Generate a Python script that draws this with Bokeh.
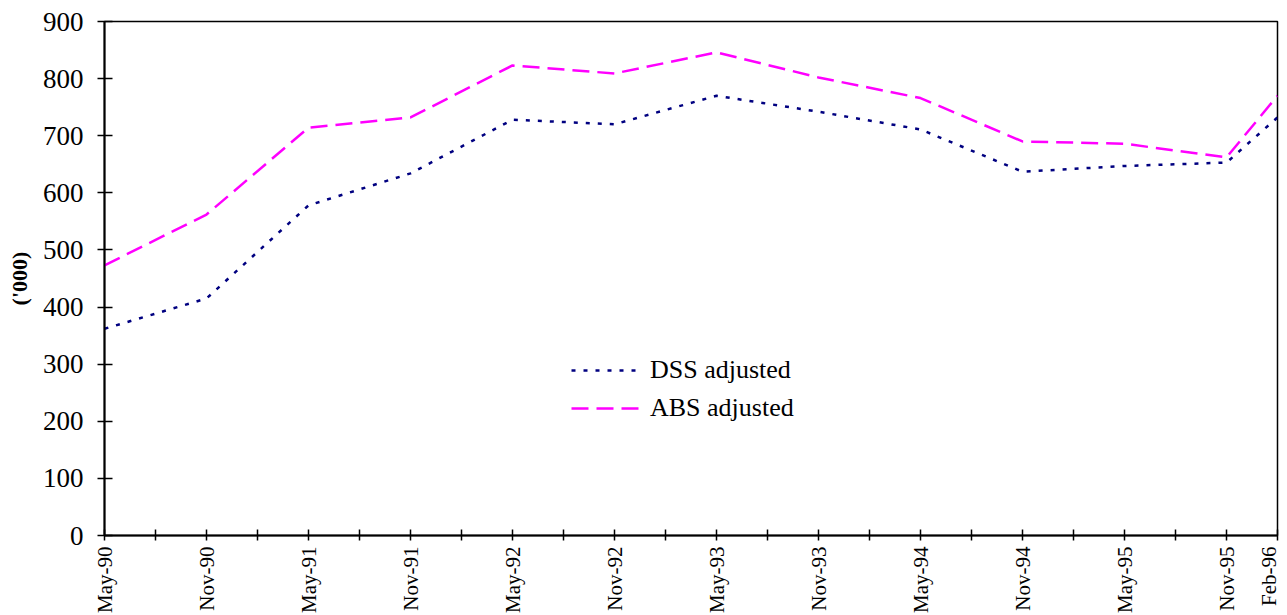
from bokeh.plotting import figure
from bokeh.models import FixedTicker, Range1d, Legend, LegendItem
from bokeh.embed import file_html
from bokeh.resources import INLINE
import math

labels = ["May-90", "Nov-90", "May-91", "Nov-91", "May-92", "Nov-92", "May-93",
          "Nov-93", "May-94", "Nov-94", "May-95", "Nov-95", "Feb-96"]
months = [0, 6, 12, 18, 24, 30, 36, 42, 48, 54, 60, 66, 69]  # months since May-90
dss = [362, 415, 578, 634, 728, 720, 770, 742, 711, 637, 647, 653, 732]
abs_ = [473, 562, 714, 732, 823, 809, 846, 802, 766, 690, 686, 662, 770]
y_ticks = [0, 100, 200, 300, 400, 500, 600, 700, 800, 900]

FONT = "Liberation Serif"

p = figure(width=1280, height=615, output_backend="svg", toolbar_location=None,
           x_range=Range1d(0, 69), y_range=Range1d(0, 900),
           min_border_left=104, min_border_right=3, min_border_top=21, min_border_bottom=72)

p.xgrid.visible = False
p.ygrid.visible = False
p.outline_line_color = "black"
p.outline_line_width = 1.5
p.background_fill_color = "white"
p.border_fill_color = "white"

r_dss = p.line(months, dss, line_color="#000080", line_width=2.5, line_dash="4 8")
r_abs = p.line(months, abs_, line_color="#FF00FF", line_width=2.5, line_dash="17 8")

# x axis
xt = list(range(0, 70, 3))
p.xaxis.ticker = FixedTicker(ticks=xt)
overrides = {}
for t in xt:
    overrides[t] = ""
for m, lab in zip(months, labels):
    overrides[m] = lab
p.xaxis.major_label_overrides = overrides
p.xaxis.major_label_orientation = math.pi / 2
p.xaxis.major_label_text_font = FONT
p.xaxis.major_label_text_font_size = "21px"
p.xaxis.major_label_text_color = "black"
p.xaxis.major_label_standoff = 6
p.xaxis.major_tick_in = 6
p.xaxis.major_tick_out = 5
p.xaxis.minor_tick_line_color = None
p.xaxis.axis_line_width = 2
p.xaxis.major_tick_line_width = 1.5
p.xaxis.axis_line_color = "black"

# y axis
p.yaxis.ticker = FixedTicker(ticks=y_ticks)
p.yaxis.major_label_text_font = FONT
p.yaxis.major_label_text_font_size = "27px"
p.yaxis.major_label_text_color = "black"
p.yaxis.major_label_standoff = 14
p.yaxis.major_tick_in = 8
p.yaxis.major_tick_out = 7
p.yaxis.minor_tick_line_color = None
p.yaxis.axis_line_width = 2
p.yaxis.major_tick_line_width = 1.5
p.yaxis.axis_line_color = "black"
p.yaxis.axis_label = "('000)"
p.yaxis.axis_label_text_font = FONT
p.yaxis.axis_label_text_font_style = "bold"
p.yaxis.axis_label_text_font_size = "22px"
p.yaxis.axis_label_text_color = "black"
p.yaxis.axis_label_standoff = 8

legend = Legend(items=[LegendItem(label="DSS adjusted", renderers=[r_dss]),
                       LegendItem(label="ABS adjusted", renderers=[r_abs])],
                location=(467, 108), orientation="vertical")
legend.border_line_color = None
legend.background_fill_alpha = 0
legend.padding = 0
legend.margin = 0
legend.spacing = 0
legend.glyph_width = 72
legend.glyph_height = 38
legend.label_height = 38
legend.label_standoff = 7
legend.label_text_font = FONT
legend.label_text_font_size = "26px"
legend.label_text_color = "black"
p.add_layout(legend, "center")

open("out.html", "w").write(file_html(p, INLINE))
